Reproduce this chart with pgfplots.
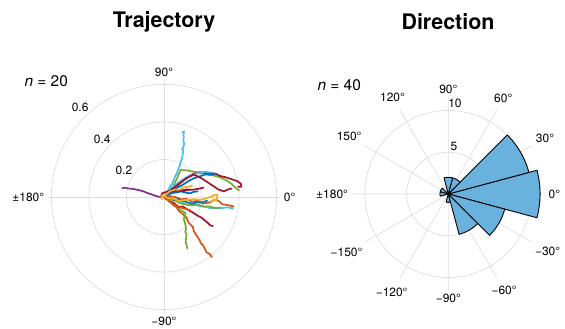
\documentclass[border=0pt]{standalone}
\usepackage{pgfplots}
\pgfplotsset{compat=1.18}
\usepgfplotslibrary{polar}
\usepackage{fontspec}
\setmainfont{TeX Gyre Heros}
\definecolor{gridgray}{RGB}{222,222,222}
\definecolor{histblue}{RGB}{106,178,222}
\definecolor{mc1}{rgb}{0,0.447,0.741}
\definecolor{mc2}{rgb}{0.850,0.325,0.098}
\definecolor{mc3}{rgb}{0.929,0.694,0.125}
\definecolor{mc4}{rgb}{0.494,0.184,0.556}
\definecolor{mc5}{rgb}{0.466,0.674,0.188}
\definecolor{mc6}{rgb}{0.301,0.745,0.933}
\definecolor{mc7}{rgb}{0.635,0.078,0.184}
\pgfplotsset{
  mypolar/.style={
    scale only axis,
    axis line style={draw=none},
    major tick style={draw=none},
    minor tick style={draw=none},
    grid=major,
    grid style={gridgray, line width=0.7bp},
    ymin=0,
    yticklabels={},
    xticklabel style={font=\fontsize{12}{14}\selectfont},
    clip=false,
  },
  traj/.style={data cs=cart, line width=1.7bp, line join=round, line cap=round, mark=none},
  wedge/.style={fill=histblue, draw=black, line width=0.9bp, line join=round, mark=none},
}
\begin{document}
\begin{tikzpicture}
\path[use as bounding box] (0,0) rectangle (565bp,329bp);
\node[font=\fontsize{21.5}{24}\selectfont\bfseries] at (164bp,307bp) {Trajectory};
\node[font=\fontsize{21.5}{24}\selectfont\bfseries] at (448bp,307bp) {Direction};
\node[font=\fontsize{15.5}{18}\selectfont, anchor=west] at (21bp,248bp) {\textit{n} = 20};
\node[font=\fontsize{15.5}{18}\selectfont, anchor=west] at (314bp,244bp) {\textit{n} = 40};

\begin{polaraxis}[mypolar,
  at={(164bp,132bp)}, anchor=center,
  width=232.7bp, height=232.7bp,
  ymax=0.62,
  xtick={0,90,180,270},
  xticklabels={0°,90°,±180°,−90°},
  ytick={0.2,0.4,0.6},
]
% trajectories (Cartesian data, converted to polar)
\addplot[traj, mc4] coordinates {(-0.222,0.048) (-0.205,0.049) (-0.19,0.045) (-0.17,0.044) (-0.15,0.04) (-0.13,0.036) (-0.11,0.03) (-0.09,0.022) (-0.07,0.015) (-0.05,0.008) (-0.03,0.002) (0,0)};
\addplot[traj, mc6] coordinates {(0,0) (0.012,0.018) (0.032,0.055) (0.045,0.075) (0.059,0.108) (0.07,0.13) (0.085,0.170) (0.09,0.19) (0.098,0.215) (0.103,0.250) (0.096,0.255) (0.101,0.262) (0.108,0.284) (0.103,0.30) (0.105,0.316) (0.104,0.335) (0.107,0.350) (0.098,0.345)};
\addplot[traj, mc2] coordinates {(0,0) (0.03,-0.02) (0.05,-0.045) (0.066,-0.053) (0.08,-0.075) (0.10,-0.09) (0.12,-0.11) (0.13,-0.135) (0.154,-0.16) (0.158,-0.18) (0.17,-0.2) (0.19,-0.23) (0.195,-0.245) (0.21,-0.26) (0.225,-0.293) (0.245,-0.305) (0.255,-0.32)};
\addplot[traj, mc5] coordinates {(0,0) (0.04,-0.03) (0.07,-0.05) (0.09,-0.07) (0.115,-0.085) (0.11,-0.10) (0.105,-0.12) (0.11,-0.13) (0.118,-0.17) (0.113,-0.185) (0.12,-0.2) (0.115,-0.24) (0.122,-0.262) (0.125,-0.275)};
\addplot[traj, mc7] coordinates {(0,0) (0.03,-0.025) (0.05,-0.03) (0.08,-0.055) (0.1,-0.05) (0.13,-0.07) (0.15,-0.08) (0.18,-0.1) (0.2,-0.11) (0.23,-0.135) (0.245,-0.15) (0.26,-0.155)};
\addplot[traj, mc6] coordinates {(0,0) (0.05,-0.01) (0.08,-0.025) (0.1,-0.03) (0.13,-0.045) (0.16,-0.04) (0.2,-0.05) (0.23,-0.055) (0.25,-0.06) (0.28,-0.058) (0.3,-0.06) (0.34,-0.055) (0.367,-0.062) (0.36,-0.045)};
\addplot[traj, mc2] coordinates {(0,0) (0.03,0.005) (0.06,0.0) (0.09,-0.012) (0.12,-0.01) (0.15,-0.025) (0.18,-0.02) (0.21,-0.035) (0.24,-0.03) (0.27,-0.015) (0.29,-0.02) (0.31,-0.038) (0.32,-0.04) (0.35,-0.045) (0.37,-0.05)};
\addplot[traj, mc5] coordinates {(0,0) (0.03,-0.012) (0.06,-0.02) (0.09,-0.035) (0.12,-0.04) (0.15,-0.045) (0.18,-0.04) (0.21,-0.05) (0.24,-0.05) (0.26,-0.055) (0.28,-0.06) (0.3,-0.055)};
\addplot[traj, mc5] coordinates {(0,0) (0.02,0.02) (0.04,0.04) (0.055,0.07) (0.07,0.10) (0.08,0.125) (0.089,0.144) (0.12,0.142) (0.16,0.135) (0.19,0.128) (0.22,0.125) (0.25,0.118) (0.28,0.11) (0.31,0.1) (0.33,0.09) (0.36,0.07) (0.38,0.05) (0.40,0.035)};
\addplot[traj, mc7] coordinates {(0,0) (0.03,0.02) (0.05,0.045) (0.07,0.06) (0.1,0.085) (0.12,0.10) (0.14,0.115) (0.16,0.125) (0.19,0.132) (0.21,0.13) (0.24,0.128) (0.27,0.125) (0.3,0.112) (0.33,0.105) (0.36,0.095) (0.39,0.085) (0.41,0.07) (0.412,0.055) (0.395,0.055)};
\addplot[traj, mc1] coordinates {(0,0) (0.02,0.02) (0.04,0.03) (0.07,0.05) (0.10,0.065) (0.13,0.085) (0.16,0.10) (0.19,0.11) (0.22,0.12) (0.25,0.118) (0.28,0.125)};
\addplot[traj, mc6] coordinates {(0,0) (0.03,0.04) (0.05,0.055) (0.08,0.08) (0.11,0.1) (0.14,0.115) (0.17,0.125) (0.2,0.13) (0.22,0.135) (0.25,0.13)};
\addplot[traj, mc7] coordinates {(0,0) (0.04,0.04) (0.08,0.07) (0.12,0.1) (0.16,0.12) (0.18,0.11) (0.2,0.1) (0.23,0.08) (0.26,0.06) (0.29,0.04) (0.32,0.03) (0.34,0.04) (0.36,0.045)};
\addplot[traj, mc7] coordinates {(0,0) (0.03,0.02) (0.05,0.03) (0.09,0.035) (0.12,0.04) (0.15,0.038) (0.19,0.045) (0.21,0.05)};
\addplot[traj, mc1] coordinates {(0,0) (0.03,-0.005) (0.05,-0.015) (0.08,-0.012) (0.1,-0.02) (0.13,-0.03) (0.15,-0.035) (0.18,-0.028) (0.2,-0.03) (0.23,-0.02)};
\addplot[traj, mc1] coordinates {(0,0) (0.02,0.012) (0.04,0.02) (0.07,0.025) (0.09,0.03) (0.12,0.022) (0.14,0.02) (0.16,0.028) (0.18,0.03)};
\addplot[traj, mc7] coordinates {(-0.015,0.005) (-0.01,0.02) (0.02,0.03) (0.04,0.035) (0.06,0.04) (0.08,0.032) (0.1,0.03) (0.12,0.036) (0.14,0.04)};
\addplot[traj, mc2] coordinates {(0,0) (0.03,-0.025) (0.05,-0.04) (0.08,-0.05) (0.1,-0.06) (0.12,-0.065) (0.14,-0.07)};
\addplot[traj, mc3] coordinates {(-0.01,0.01) (-0.015,-0.005) (0.01,0.012) (0.03,0.03) (0.06,0.04) (0.08,0.038) (0.1,0.05) (0.13,0.055) (0.15,0.06)};
\addplot[traj, mc3] coordinates {(-0.012,-0.012) (-0.005,0.008) (0.02,-0.005) (0.05,-0.01) (0.08,-0.02) (0.12,-0.015) (0.16,-0.012) (0.2,-0.015) (0.23,-0.005) (0.25,0.0) (0.27,0.012) (0.285,0.01) (0.28,-0.02) (0.265,-0.012) (0.25,-0.03)};
% radial labels
\node[font=\fontsize{12}{14}\selectfont] at (axis cs:146,0.257) {0.2};
\node[font=\fontsize{12}{14}\selectfont] at (axis cs:136.8,0.451) {0.4};
\node[font=\fontsize{12}{14}\selectfont] at (axis cs:133.2,0.653) {0.6};
\end{polaraxis}

\begin{polaraxis}[mypolar,
  at={(448.3bp,135bp)}, anchor=center,
  width=193.7bp, height=193.7bp,
  ymax=11.6,
  xtick={0,30,...,330},
  xticklabels={0°,30°,60°,90°,120°,150°,±180°,−150°,−120°,−90°,−60°,−30°},
  ytick={5,10},
]
\addplot[wedge] coordinates {(0,0) (-15,11) (-10,11) (-5,11) (0,11) (5,11) (10,11) (15,11)} -- cycle;
\addplot[wedge] coordinates {(0,0) (15,10) (20,10) (25,10) (30,10) (35,10) (40,10) (45,10)} -- cycle;
\addplot[wedge] coordinates {(0,0) (45,2) (50,2) (55,2) (60,2) (65,2) (70,2) (75,2)} -- cycle;
\addplot[wedge] coordinates {(0,0) (75,2) (80,2) (85,2) (90,2) (95,2) (100,2) (105,2)} -- cycle;
\addplot[wedge] coordinates {(0,0) (135,1) (140,1) (145,1) (150,1) (155,1) (160,1) (165,1)} -- cycle;
\addplot[wedge] coordinates {(0,0) (165,1) (170,1) (175,1) (180,1) (185,1) (190,1) (195,1)} -- cycle;
\addplot[wedge] coordinates {(0,0) (-105,1) (-100,1) (-95,1) (-90,1) (-85,1) (-80,1) (-75,1)} -- cycle;
\addplot[wedge] coordinates {(0,0) (-75,5) (-70,5) (-65,5) (-60,5) (-55,5) (-50,5) (-45,5)} -- cycle;
\addplot[wedge] coordinates {(0,0) (-45,7) (-40,7) (-35,7) (-30,7) (-25,7) (-20,7) (-15,7)} -- cycle;
\node[font=\fontsize{12}{14}\selectfont] at (axis cs:83.2,5.79) {5};
\node[font=\fontsize{12}{14}\selectfont] at (axis cs:85.8,10.9) {10};
\end{polaraxis}
\end{tikzpicture}
\end{document}
